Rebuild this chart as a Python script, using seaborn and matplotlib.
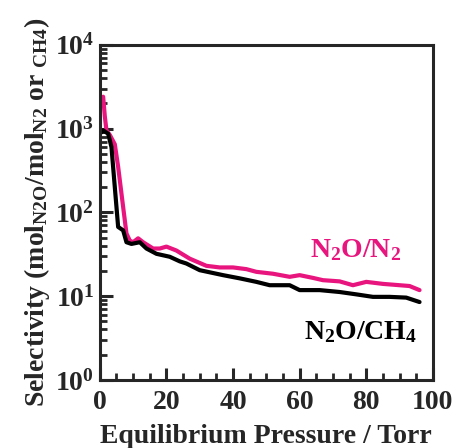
import matplotlib
matplotlib.use("Agg")
import matplotlib.pyplot as plt
from matplotlib.ticker import LogLocator, LogFormatterMathtext, MultipleLocator, NullFormatter
import pandas as pd
import seaborn as sns

# N2O/N2 selectivity (pink)
n2_pressure = [1, 1.5, 2, 3, 4.5, 5.5, 7, 8, 9, 10, 11.5, 13, 16, 18, 20, 23, 27, 32,
               36, 40, 44, 47, 52, 57, 60, 64, 67, 72, 76, 80, 85, 90, 93, 96]
n2_select = [2400, 1400, 950, 840, 650, 350, 116, 56, 46, 44, 49, 44, 37, 37, 39, 35, 28, 23,
             22, 22, 21, 19.5, 18.5, 17, 17.8, 16.5, 15.5, 15, 13.5, 14.8, 14, 13.5, 13.2, 11.8]

# N2O/CH4 selectivity (black)
ch4_pressure = [0.5, 1, 2.5, 3.5, 4.5, 5.5, 7, 8, 9.5, 12, 14, 17, 21, 24, 26, 30, 37, 42,
                47, 51, 57, 60, 66, 72, 77, 82, 87, 92, 96]
ch4_select = [900, 950, 870, 600, 200, 67, 61, 44, 42, 44, 37, 32, 29.5, 26, 24.5, 20.4, 17.8, 16.3,
              14.8, 13.5, 13.5, 11.8, 11.8, 11.2, 10.5, 9.8, 9.8, 9.6, 8.5]

pink = "#E8157F"

sns.set_style("ticks")
plt.rcParams["font.family"] = ["Liberation Serif", "DejaVu Serif"]
plt.rcParams["font.weight"] = "bold"
plt.rcParams["mathtext.fontset"] = "custom"
plt.rcParams["mathtext.rm"] = "Liberation Serif:bold"
plt.rcParams["mathtext.it"] = "Liberation Serif:bold"
plt.rcParams["mathtext.bf"] = "Liberation Serif:bold"
plt.rcParams["mathtext.default"] = "regular"

df = pd.concat([
    pd.DataFrame({"p": n2_pressure, "s": n2_select, "pair": "N2O/N2"}),
    pd.DataFrame({"p": ch4_pressure, "s": ch4_select, "pair": "N2O/CH4"}),
])

fig = plt.figure(figsize=(4.6, 4.48), dpi=100)
ax = fig.add_axes([0.217, 0.152, 0.724, 0.748])

sns.lineplot(data=df, x="p", y="s", hue="pair", hue_order=["N2O/N2", "N2O/CH4"],
             palette={"N2O/N2": pink, "N2O/CH4": "black"},
             estimator=None, linewidth=3, legend=False, ax=ax)

ax.set_yscale("log")
ax.set_ylim(1, 1e4)
ax.set_xlim(0, 100)
ax.yaxis.set_major_locator(LogLocator(base=10, numticks=10))
ax.yaxis.set_major_formatter(LogFormatterMathtext())
ax.yaxis.set_minor_locator(LogLocator(base=10, subs=range(2, 10), numticks=20))
ax.yaxis.set_minor_formatter(NullFormatter())
ax.xaxis.set_major_locator(MultipleLocator(20))
ax.xaxis.set_minor_locator(MultipleLocator(5))

for s in ax.spines.values():
    s.set_linewidth(2.2)
ax.tick_params(which="major", direction="in", length=9, width=2.2, labelsize=20)
ax.tick_params(axis="x", which="major", pad=7)
ax.tick_params(axis="y", which="major", pad=4)
ax.tick_params(which="minor", direction="in", length=5, width=2)

ax.set_xlabel("Equilibrium Pressure / Torr", fontsize=20, fontweight="bold", labelpad=7)
ax.set_ylabel(r"Selectivity (mol$_{\mathregular{N2O}}$/mol$_{\mathregular{N2}}$ or $_{\mathregular{CH4}}$)",
              fontsize=20, fontweight="bold", labelpad=2)

ax.text(76.9, 35, r"N$_2$O/N$_2$", color=pink, fontsize=20,
        fontweight="bold", ha="center", va="center")
ax.text(78.4, 3.7, r"N$_2$O/CH$_4$", color="black", fontsize=20,
        fontweight="bold", ha="center", va="center")

fig.savefig("out.png", dpi=100)
